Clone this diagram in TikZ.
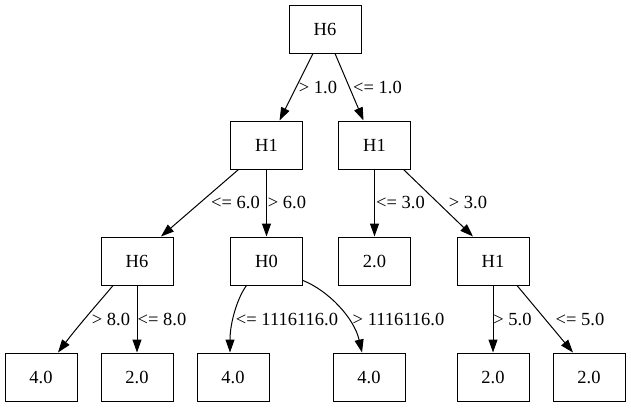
\documentclass[tikz,border=0pt]{standalone}
\usepackage{fontspec}
\setmainfont{Liberation Serif}
\usetikzlibrary{arrows.meta}
\begin{document}
\begin{tikzpicture}[x=1pt,y=-1pt,
  font=\fontsize{18.5}{22}\selectfont,
  box/.style={draw,line width=1pt,minimum width=72pt,minimum height=48pt,inner sep=0pt},
  lbl/.style={inner sep=0pt},
  edge/.style={line width=1pt,-{Triangle[length=13pt,width=9pt]}}]
\useasboundingbox (0,0) rectangle (631,407);
% nodes
\node[box] (root) at (325,29) {H6};
\node[box] (h1a) at (266.5,145) {H1};
\node[box] (h1b) at (374.5,145) {H1};
\node[box] (h6) at (137,261) {H6};
\node[box] (h0) at (266.5,261) {H0};
\node[box] (v2) at (374.5,261) {2.0};
\node[box] (h1c) at (493,261) {H1};
\node[box] (l1) at (41,377) {4.0};
\node[box] (l2) at (137,377) {2.0};
\node[box] (l3) at (233,377) {4.0};
\node[box] (l4) at (369,377) {4.0};
\node[box] (l5) at (493,377) {2.0};
\node[box] (l6) at (589,377) {2.0};
% edges
\draw[edge] ([xshift=-12pt]root.south) -- ([xshift=13pt]h1a.north);
\draw[edge] ([xshift=10pt]root.south) -- ([xshift=-11pt]h1b.north);
\draw[edge] ([xshift=-28pt]h1a.south) -- ([xshift=24pt]h6.north);
\draw[edge] (h1a.south) -- (h0.north);
\draw[edge] (h1b.south) -- (v2.north);
\draw[edge] ([xshift=29pt]h1b.south) -- ([xshift=-20pt]h1c.north);
\draw[edge] ([xshift=-24pt]h6.south) .. controls +(-9,11) and +(22,-29) .. ([xshift=17pt]l1.north);
\draw[edge] (h6.south) -- (l2.north);
\draw[edge] ([xshift=-20pt]h0.south) .. controls +(-9,12) and +(0,-30) .. ([xshift=-3pt]l3.north);
\draw[edge] ([yshift=5pt]h0.south east) .. controls +(25,10) and +(-8,-35) .. ([xshift=-7pt]l4.north);
\draw[edge] (h1c.south) -- (l5.north);
\draw[edge] ([xshift=24pt]h1c.south) -- ([xshift=-16pt]l6.north);
% labels
\node[lbl] (e1) at (318,87) {> 1.0};
\node[lbl] (e2) at (377.5,87) {<= 1.0};
\node[lbl] (e3) at (235.5,202) {<= 6.0};
\node[lbl] (e4) at (287,202) {> 6.0};
\node[lbl] (e5) at (400.5,202) {<= 3.0};
\node[lbl] (e6) at (468,202) {> 3.0};
\node[lbl] (e7) at (111,319) {> 8.0};
\node[lbl] (e8) at (162,319) {<= 8.0};
\node[lbl] (e9) at (287,319) {<= 1116116.0};
\node[lbl] (e10) at (398.5,319) {> 1116116.0};
\node[lbl] (e11) at (512.5,319) {> 5.0};
\node[lbl] (e12) at (580,319) {<= 5.0};
\end{tikzpicture}
\end{document}
